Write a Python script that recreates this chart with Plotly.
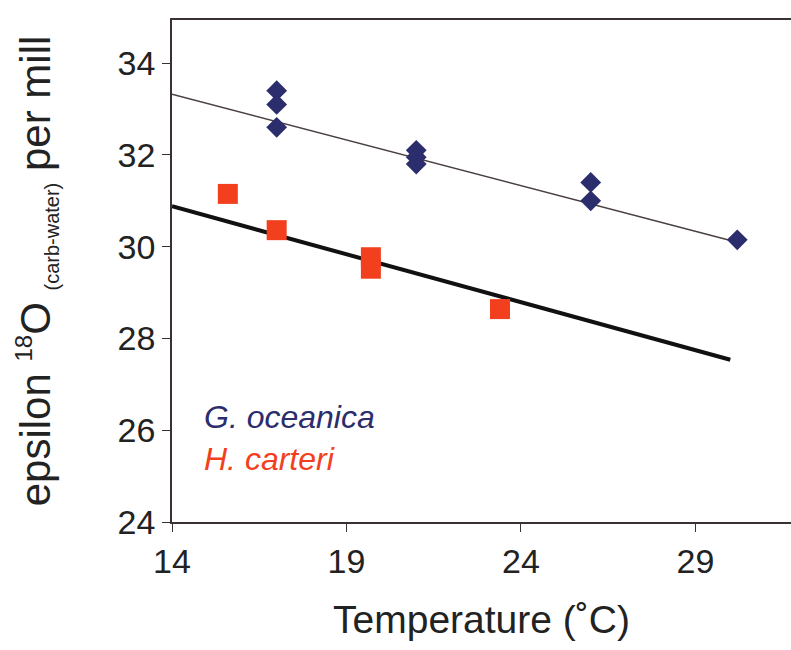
import plotly.graph_objects as go

# G. oceanica measurements (temperature in deg C, epsilon 18O per mill)
g_temp = [17, 17, 17, 21, 21, 21, 26, 26, 30.2]
g_eps = [33.4, 33.1, 32.6, 32.1, 31.95, 31.8, 31.4, 31.0, 30.15]

# H. carteri measurements
h_temp = [15.6, 17, 19.7, 19.7, 23.4]
h_eps = [31.15, 30.36, 29.77, 29.52, 28.64]

# Linear trend lines: (x start, x end), intercept at x start, slope
g_fit_x = [14, 30.2]
g_fit_b, g_fit_m = 33.32, -0.199
h_fit_x = [14, 30.0]
h_fit_b, h_fit_m = 30.88, -0.209

x_ticks = [14, 19, 24, 29]
y_ticks = [24, 26, 28, 30, 32, 34]

NAVY = "#2b2d6c"
RED = "#f2401f"
AXIS = "#3a3232"
FONT = "Liberation Sans, Arial, sans-serif"


def line_y(xs, b, m):
    return [b + m * (x - xs[0]) for x in xs]


fig = go.Figure()
fig.add_trace(go.Scatter(x=g_fit_x, y=line_y(g_fit_x, g_fit_b, g_fit_m), mode="lines",
                         line=dict(color="#4a4040", width=1.5), showlegend=False))
fig.add_trace(go.Scatter(x=h_fit_x, y=line_y(h_fit_x, h_fit_b, h_fit_m), mode="lines",
                         line=dict(color="#111111", width=4), showlegend=False))
fig.add_trace(go.Scatter(x=g_temp, y=g_eps, mode="markers",
                         marker=dict(symbol="diamond", size=16, color=NAVY,
                                     line=dict(width=0)), showlegend=False))
fig.add_trace(go.Scatter(x=h_temp, y=h_eps, mode="markers",
                         marker=dict(symbol="square", size=20, color=RED,
                                     line=dict(width=0)), showlegend=False))

fig.add_annotation(text="<i>G. oceanica</i>", xref="paper", yref="paper",
                   x=0.048, y=0.21, xanchor="left", yanchor="middle", showarrow=False,
                   font=dict(family=FONT, size=32, color=NAVY))
fig.add_annotation(text="<i>H. carteri</i>", xref="paper", yref="paper",
                   x=0.048, y=0.125, xanchor="left", yanchor="middle", showarrow=False,
                   font=dict(family=FONT, size=32, color=RED))

y_title = ("epsilon <sup><span style='font-size:24px'>18</span></sup>O "
           "<sub><span style='font-size:20px'>(carb-water)</span></sub> per mill")

fig.update_layout(
    width=791, height=650,
    margin=dict(l=172, r=0, t=20, b=128),
    paper_bgcolor="white", plot_bgcolor="white",
    font=dict(family=FONT, color="#222222"),
    xaxis=dict(range=[14, 31.74], tickvals=x_ticks, ticks="outside", ticklen=8,
               tickcolor=AXIS, showline=True, linecolor=AXIS, linewidth=1.5,
               mirror=True, showgrid=False, zeroline=False,
               tickfont=dict(size=34, color="#222222"),
               title=dict(text="Temperature (˚C)", font=dict(size=39, color="#222222"),
                          standoff=27)),
    yaxis=dict(range=[24, 34.94], tickvals=y_ticks, ticks="outside", ticklen=8,
               tickcolor=AXIS, showline=True, linecolor=AXIS, linewidth=1.5,
               showgrid=False, zeroline=False,
               tickfont=dict(size=34, color="#222222"),
               title=dict(text=y_title, font=dict(size=42, color="#222222"), standoff=54)),
)

fig.write_html("out.html")
